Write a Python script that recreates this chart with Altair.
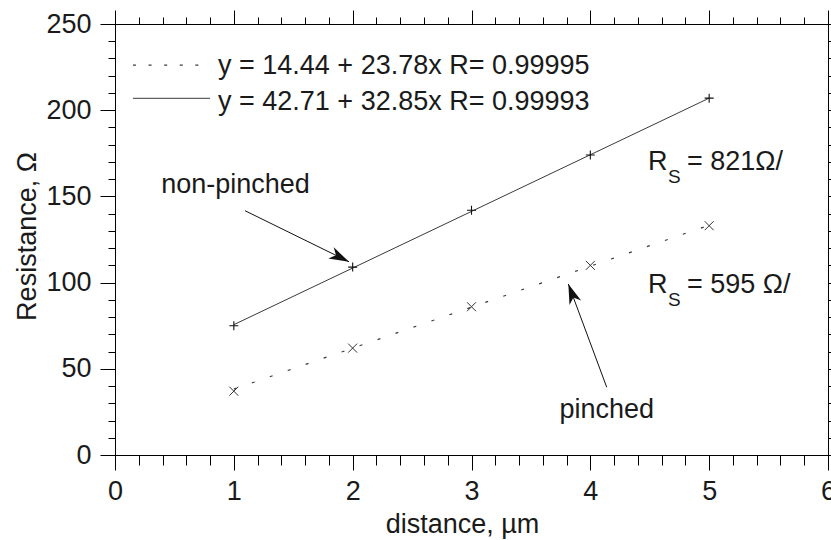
import math
import altair as alt
import pandas as pd

# ---------------- data ----------------
distance = [1, 2, 3, 4, 5]
r_nonpinched = [75, 109, 142, 174, 207]   # "+" markers
r_pinched = [37, 62, 86, 110, 133]        # "x" markers

fit_x = [1, 5]
fit_nonpinched = [75.6, 207.0]            # solid fit line end points
fit_pinched = [38.2, 133.3]               # dotted fit line end points

legend_labels = ["y = 14.44 + 23.78x R= 0.99995",
                 "y = 42.71 + 32.85x R= 0.99993"]

x_major = [0, 1, 2, 3, 4, 5, 6]
x_minor = [0, 0.2, 0.4, 0.6, 0.8, 1, 1.2, 1.4, 1.6, 1.8, 2, 2.2, 2.4, 2.6, 2.8,
           3, 3.2, 3.4, 3.6, 3.8, 4, 4.2, 4.4, 4.6, 4.8, 5, 5.2, 5.4, 5.6, 5.8, 6]
y_major = [0, 50, 100, 150, 200, 250]
y_minor = [0, 10, 20, 30, 40, 50, 60, 70, 80, 90, 100, 110, 120, 130, 140, 150,
           160, 170, 180, 190, 200, 210, 220, 230, 240, 250]

# annotation anchors in data coordinates
legend_line_x = [0.151, 0.80]
legend_line_y = [226.2, 206.9]
legend_text_x = 0.867
legend_text_y = [221.0, 200.1]

arrow_start_x = [1.094, 4.138]
arrow_start_y = [141.7, 39.3]
arrow_tip_x = [1.969, 3.815]
arrow_tip_y = [112.1, 99.2]

label_texts = ["non-pinched", "pinched"]
label_x = [1.014, 4.138]
label_y = [151.8, 21.3]

rs_values = ["= 821\u03a9/", "= 595 \u03a9/"]
rs_x = 4.485
rs_y = [165.3, 93.8]

# ---------------- layout ----------------
W, H = 713, 431
XDOM, YDOM = [0, 6], [0, 250]
FONT = "Liberation Sans"
FS = 27
TXT = "#1a1a1a"

xs = alt.Scale(domain=XDOM, nice=False, zero=False)
ys = alt.Scale(domain=YDOM, nice=False, zero=False)

pts = pd.DataFrame({"d": distance, "np": r_nonpinched, "p": r_pinched})
fit = pd.DataFrame({"d": fit_x, "np": fit_nonpinched, "p": fit_pinched})


def ax(orient, values, tick, labels=False, **kw):
    return alt.Axis(orient=orient, values=values, tickSize=tick, labels=labels,
                    grid=False, tickColor="#000", domainColor="#000",
                    tickWidth=1, domainWidth=1, labelFlush=False, **kw)


# solid fit line, carries the main bottom/left axes
solid = alt.Chart(fit).mark_line(color="#3a3a3a", strokeWidth=1).encode(
    x=alt.X("d:Q", scale=xs,
            axis=ax("bottom", x_major, 15, labels=True, labelPadding=8,
                    title="distance, \u00b5m", titleX=347, titleY=77,
                    titleBaseline="alphabetic", format="d")),
    y=alt.Y("np:Q", scale=ys,
            axis=ax("left", y_major, 15, labels=True, labelPadding=9,
                    title="Resistance, \u03a9", titleX=-80, titleY=212,
                    titleAngle=270, titleBaseline="alphabetic", format="d")),
)

# dotted fit line, carries minor bottom/left ticks
dotted = alt.Chart(fit).mark_line(color="#3a3a3a", strokeWidth=1.2,
                                  strokeDash=[3, 16]).encode(
    x=alt.X("d:Q", scale=xs, axis=ax("bottom", x_minor, 10, domain=False, title="")),
    y=alt.Y("p:Q", scale=ys, axis=ax("left", y_minor, 7, domain=False, title="")),
)

plus = alt.Chart(pts).mark_point(shape="M-1,0L1,0M0,-1L0,1", size=81, filled=False,
                                 strokeWidth=1.1, color="#111", opacity=1).encode(
    x=alt.X("d:Q", scale=xs, axis=ax("top", x_major, 14, title="")),
    y=alt.Y("np:Q", scale=ys, axis=ax("right", y_major, 14, title="")),
)

cross = alt.Chart(pts).mark_point(shape="M-1,-1L1,1M-1,1L1,-1", size=81, filled=False,
                                  strokeWidth=1, color="#333", opacity=1).encode(
    x=alt.X("d:Q", scale=xs, axis=ax("top", x_minor, 7, domain=False, title="")),
    y=alt.Y("p:Q", scale=ys, axis=ax("right", y_minor, 7, domain=False, title="")),
)

# legend samples
leg_df = pd.DataFrame({"x1": [legend_line_x[0]] * 2, "x2": [legend_line_x[1]] * 2,
                       "y": legend_line_y, "k": ["dot", "solid"],
                       "tx": [legend_text_x] * 2, "ty": legend_text_y,
                       "t": legend_labels})
leg_dot = alt.Chart(leg_df[leg_df.k == "dot"]).mark_rule(
    color="#3a3a3a", strokeWidth=1.2, strokeDash=[3, 12.6]).encode(
    x=alt.X("x1:Q", scale=xs, axis=None), x2="x2:Q",
    y=alt.Y("y:Q", scale=ys, axis=None))
leg_solid = alt.Chart(leg_df[leg_df.k == "solid"]).mark_rule(
    color="#3a3a3a", strokeWidth=1).encode(
    x=alt.X("x1:Q", scale=xs, axis=None), x2="x2:Q",
    y=alt.Y("y:Q", scale=ys, axis=None))
leg_text = alt.Chart(leg_df).mark_text(align="left", baseline="alphabetic",
                                       font=FONT, fontSize=FS, color=TXT).encode(
    x=alt.X("tx:Q", scale=xs, axis=None), y=alt.Y("ty:Q", scale=ys, axis=None),
    text="t:N")

# arrows
px_x = W / (XDOM[1] - XDOM[0])
px_y = H / (YDOM[1] - YDOM[0])
angles = []
for sx, sy, tx, ty in zip(arrow_start_x, arrow_start_y, arrow_tip_x, arrow_tip_y):
    dxp = (tx - sx) * px_x
    dyp = -(ty - sy) * px_y
    angles.append(math.degrees(math.atan2(dxp, -dyp)) % 360)
arr = pd.DataFrame({"sx": arrow_start_x, "sy": arrow_start_y,
                    "tx": arrow_tip_x, "ty": arrow_tip_y, "a": angles})
shaft = alt.Chart(arr).mark_rule(color="#111", strokeWidth=1).encode(
    x=alt.X("sx:Q", scale=xs, axis=None), y=alt.Y("sy:Q", scale=ys, axis=None),
    x2="tx:Q", y2="ty:Q")
head = alt.Chart(arr).mark_point(shape="M0,0L-0.62,2L0,1.45L0.62,2Z", size=400,
                                 filled=True, color="#111", opacity=1,
                                 strokeWidth=0).encode(
    x=alt.X("tx:Q", scale=xs, axis=None), y=alt.Y("ty:Q", scale=ys, axis=None),
    angle=alt.Angle("a:Q", scale=None))

lab_df = pd.DataFrame({"x": label_x, "y": label_y, "t": label_texts})
labels = alt.Chart(lab_df).mark_text(align="center", baseline="alphabetic",
                                     font=FONT, fontSize=FS, color=TXT).encode(
    x=alt.X("x:Q", scale=xs, axis=None), y=alt.Y("y:Q", scale=ys, axis=None),
    text="t:N")

rs_df = pd.DataFrame({"x": [rs_x] * 2, "y": rs_y, "v": rs_values,
                      "r": ["R", "R"], "s": ["S", "S"]})
rs_R = alt.Chart(rs_df).mark_text(align="left", baseline="alphabetic", font=FONT,
                                  fontSize=FS, color=TXT).encode(
    x=alt.X("x:Q", scale=xs, axis=None), y=alt.Y("y:Q", scale=ys, axis=None),
    text="r:N")
rs_S = alt.Chart(rs_df).mark_text(align="left", baseline="alphabetic", font=FONT,
                                  fontSize=19, color=TXT, dx=20, dy=13).encode(
    x=alt.X("x:Q", scale=xs, axis=None), y=alt.Y("y:Q", scale=ys, axis=None),
    text="s:N")
rs_V = alt.Chart(rs_df).mark_text(align="left", baseline="alphabetic", font=FONT,
                                  fontSize=FS, color=TXT, dx=39).encode(
    x=alt.X("x:Q", scale=xs, axis=None), y=alt.Y("y:Q", scale=ys, axis=None),
    text="v:N")

chart = alt.layer(
    solid, dotted, plus, cross, leg_dot, leg_solid, leg_text,
    shaft, head, labels, rs_R, rs_S, rs_V
).resolve_axis(x="independent", y="independent").properties(
    width=W, height=H,
    autosize=alt.AutoSizeParams(type="none"),
    padding={"left": 115, "top": 24, "right": 3, "bottom": 85},
    background="white",
).configure_view(stroke=None).configure_axis(
    labelFont=FONT, titleFont=FONT, labelFontSize=FS, titleFontSize=FS,
    titleFontWeight="normal", labelColor=TXT, titleColor=TXT,
)

chart.save("out.html", embed_options={"renderer": "svg", "actions": False})
